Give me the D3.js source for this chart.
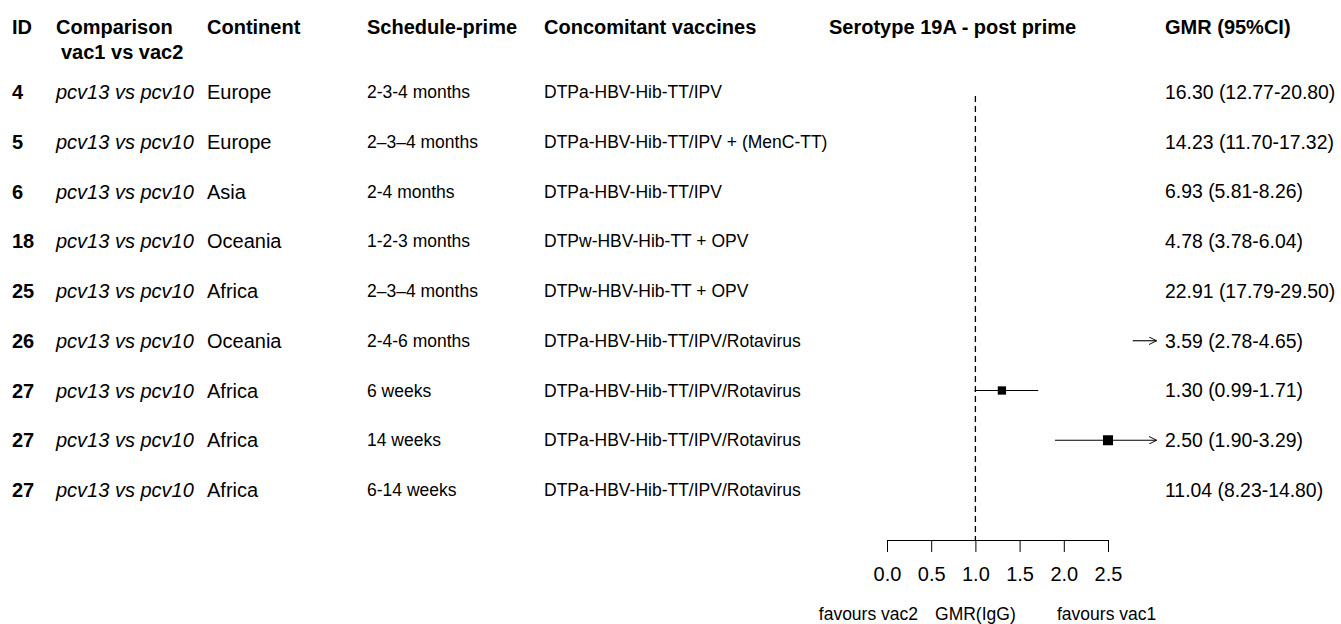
<!DOCTYPE html>
<html>
<head>
<meta charset="utf-8">
<script src="https://cdn.jsdelivr.net/npm/d3@7"></script>
<style>
  body { margin: 0; background: #fff; }
  svg { font-family: "Liberation Sans", Arial, sans-serif; }
  .hdr { font-weight: bold; font-size: 20px; }
  .big { font-size: 20px; }
  .gmr { font-size: 19.4px; }
  .small { font-size: 17.5px; }
</style>
</head>
<body>
<div id="chart"></div>
<script>
// ---- size of the page
const w = 1341;
const h = 624;

// ---- data
const ids = ["4", "5", "6", "18", "25", "26", "27", "27", "27"];
const comparisons = Array(9).fill("pcv13 vs pcv10");
const continents = ["Europe", "Europe", "Asia", "Oceania", "Africa", "Oceania", "Africa", "Africa", "Africa"];
const schedules = ["2-3-4 months", "2\u20133\u20134 months", "2-4 months", "1-2-3 months", "2\u20133\u20134 months",
  "2-4-6 months", "6 weeks", "14 weeks", "6-14 weeks"];
const vaccines = ["DTPa-HBV-Hib-TT/IPV", "DTPa-HBV-Hib-TT/IPV + (MenC-TT)", "DTPa-HBV-Hib-TT/IPV",
  "DTPw-HBV-Hib-TT + OPV", "DTPw-HBV-Hib-TT + OPV", "DTPa-HBV-Hib-TT/IPV/Rotavirus",
  "DTPa-HBV-Hib-TT/IPV/Rotavirus", "DTPa-HBV-Hib-TT/IPV/Rotavirus", "DTPa-HBV-Hib-TT/IPV/Rotavirus"];
const gmr = [16.30, 14.23, 6.93, 4.78, 22.91, 3.59, 1.30, 2.50, 11.04];
const lower = [12.77, 11.70, 5.81, 3.78, 17.79, 2.78, 0.99, 1.90, 8.23];
const upper = [20.80, 17.32, 8.26, 6.04, 29.50, 4.65, 1.71, 3.29, 14.80];
const weights = [1, 1, 1, 1, 1, 1, 0.83, 1, 1];
const ticks = [0, 0.5, 1, 1.5, 2, 2.5];
const headers = ["ID", "Comparison", "Continent", "Schedule-prime", "Concomitant vaccines",
  "Serotype 19A - post prime", "GMR (95%CI)"];

// ---- layout
const colX = [12, 56, 207, 367, 544, 829, 1165];
const rowTop = 92;
const rowStep = 49.75;
const axisY = 540;
const clipMax = 3.05;

const svg = d3.select("#chart").append("svg").attr("width", w).attr("height", h);

// SCALES
const xScale = d3.scaleLinear().domain([0, 2.5]).range([887, 1108]);
const yScale = d3.scaleLinear().domain([0, 1]).range([rowTop, rowTop + rowStep]);
const boxScale = d3.scaleLinear().domain([0, 1]).range([0, 10]);

// HEADERS
svg.append("g").selectAll("text")
  .data(headers).enter().append("text")
  .attr("class", "hdr")
  .attr("x", (d, i) => colX[i])
  .attr("y", 34)
  .text((d) => d);
svg.append("text").attr("class", "hdr").attr("x", 61).attr("y", 59).text("vac1 vs vac2");

// TABLE COLUMNS
const rows = svg.append("g").selectAll("g")
  .data(gmr).enter().append("g")
  .attr("transform", (d, i) => `translate(0, ${yScale(i)})`);

rows.append("text").attr("class", "big").attr("x", colX[0]).attr("dy", "0.35em")
  .style("font-weight", "bold").text((d, i) => ids[i]);
rows.append("text").attr("class", "big").attr("x", colX[1]).attr("dy", "0.35em")
  .style("font-style", "italic").text((d, i) => comparisons[i]);
rows.append("text").attr("class", "big").attr("x", colX[2]).attr("dy", "0.35em")
  .text((d, i) => continents[i]);
rows.append("text").attr("class", "small").attr("x", colX[3]).attr("dy", "0.35em")
  .text((d, i) => schedules[i]);
rows.append("text").attr("class", "small").attr("x", colX[4]).attr("dy", "0.35em")
  .text((d, i) => vaccines[i]);
rows.append("text").attr("class", "gmr").attr("x", colX[6]).attr("dy", "0.35em")
  .text((d, i) => d.toFixed(2) + " (" + lower[i].toFixed(2) + "-" + upper[i].toFixed(2) + ")");

// ARROW MARKER
svg.append("defs").append("marker")
  .attr("id", "arrow").attr("viewBox", "0 0 10 10")
  .attr("refX", 10).attr("refY", 5)
  .attr("markerWidth", 8).attr("markerHeight", 8)
  .attr("markerUnits", "userSpaceOnUse")
  .attr("orient", "auto")
  .append("path").attr("d", "M0,0 L10,5 L0,10")
  .attr("fill", "none").attr("stroke", "#000").attr("stroke-width", 1.2);

// REFERENCE LINE
svg.append("line")
  .attr("x1", xScale(1)).attr("x2", xScale(1))
  .attr("y1", 96).attr("y2", axisY)
  .attr("stroke", "#000").attr("stroke-width", 1.3).attr("stroke-dasharray", "6,4");

// CI LINES
rows.filter((d, i) => lower[i] < clipMax)
  .append("line")
  .attr("x1", (d) => xScale(lower[gmr.indexOf(d)]))
  .attr("x2", (d) => xScale(Math.min(upper[gmr.indexOf(d)], clipMax)))
  .attr("stroke", "#000").attr("stroke-width", 1.1)
  .attr("marker-end", (d) => (upper[gmr.indexOf(d)] > clipMax ? "url(#arrow)" : null));

// BOXES
rows.filter((d) => d <= clipMax)
  .append("rect")
  .attr("x", (d) => xScale(d) - boxScale(weights[gmr.indexOf(d)]) / 2)
  .attr("y", (d) => -boxScale(weights[gmr.indexOf(d)]) / 2)
  .attr("width", (d) => boxScale(weights[gmr.indexOf(d)]))
  .attr("height", (d) => boxScale(weights[gmr.indexOf(d)]))
  .attr("fill", "#000");

// X AXIS
const xAxis = d3.axisBottom(xScale).tickValues(ticks).tickFormat(d3.format(".1f"))
  .tickSizeInner(12).tickSizeOuter(0).tickPadding(15);
const ax = svg.append("g").attr("transform", `translate(0, ${axisY})`).call(xAxis);
ax.select(".domain").attr("stroke", "#000");
ax.selectAll(".tick line").attr("stroke", "#000");
ax.selectAll(".tick text").attr("fill", "#000")
  .style("font-size", "20px").style("font-family", "Liberation Sans, Arial, sans-serif");

// AXIS LABELS
svg.append("text").attr("class", "small").attr("x", 918).attr("y", 620)
  .attr("text-anchor", "end").text("favours vac2");
svg.append("text").attr("class", "small").attr("x", xScale(1)).attr("y", 620)
  .attr("text-anchor", "middle").text("GMR(IgG)");
svg.append("text").attr("class", "small").attr("x", 1057).attr("y", 620)
  .text("favours vac1");
</script>
</body>
</html>
